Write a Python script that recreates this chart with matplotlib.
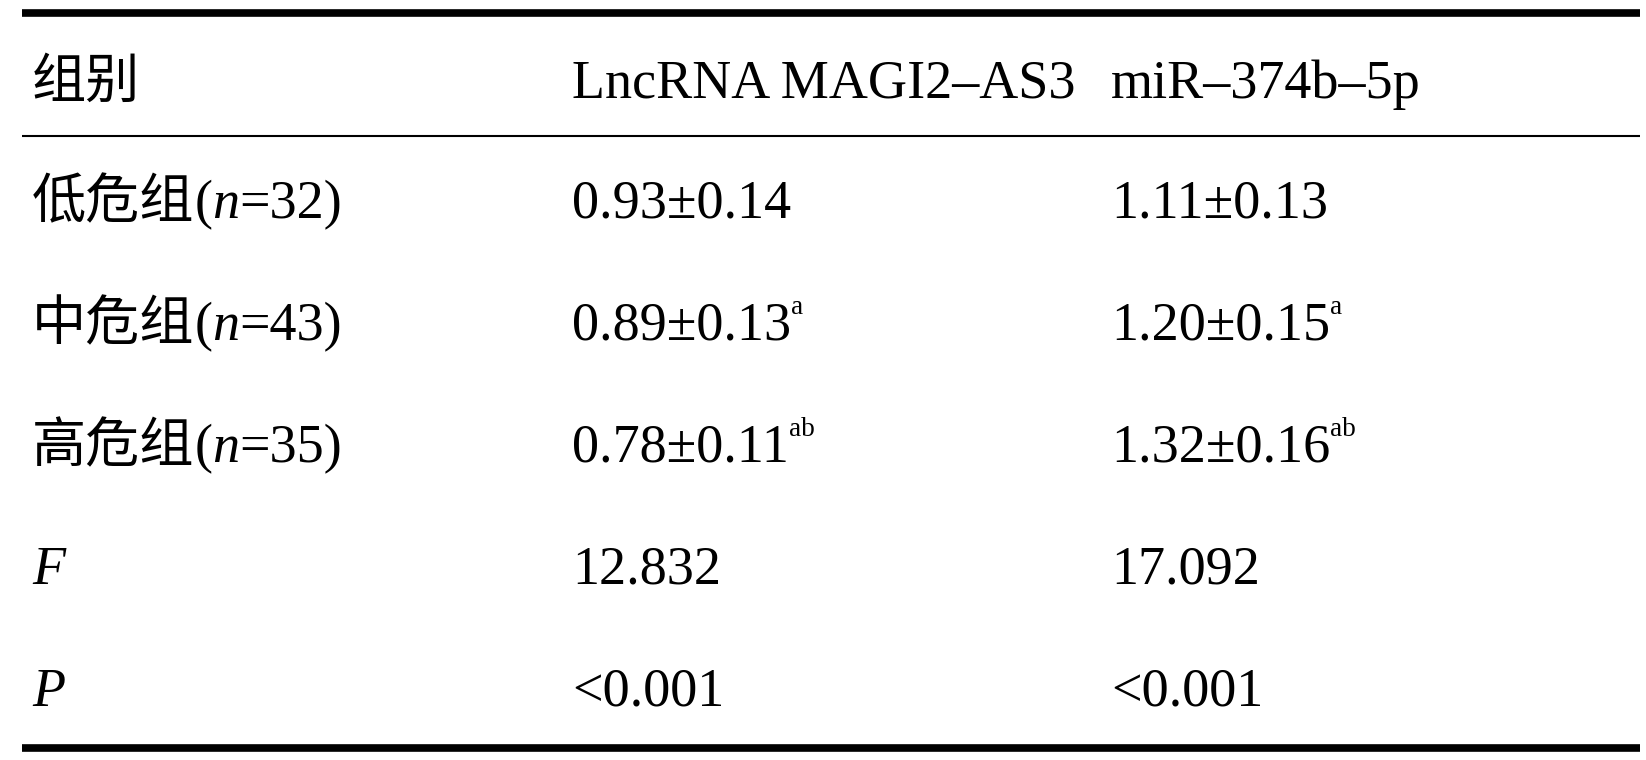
import matplotlib
matplotlib.use("Agg")
import matplotlib.pyplot as plt

# table content
header = ["组别", "LncRNA MAGI2–AS3", "miR–374b–5p"]
groups = ["低危组", "中危组", "高危组"]
group_n = [32, 43, 35]
lnc_mean = [0.93, 0.89, 0.78]
lnc_sd = [0.14, 0.13, 0.11]
mir_mean = [1.11, 1.20, 1.32]
mir_sd = [0.13, 0.15, 0.16]
marks = ["", "a", "ab"]
stat_names = ["F", "P"]
lnc_stats = ["12.832", "<0.001"]
mir_stats = ["17.092", "<0.001"]

W, H = 1646, 760
fig = plt.figure(figsize=(W / 100, H / 100), dpi=100)
ax = fig.add_axes([0, 0, 1, 1])
ax.set_xlim(0, W)
ax.set_ylim(H, 0)
ax.axis("off")
fig.canvas.draw()
renderer = fig.canvas.get_renderer()

FS = 39
serif = dict(family=["Liberation Serif", "DejaVu Serif"], size=FS)
ital = dict(family=["Liberation Serif", "DejaVu Serif"], size=FS, style="italic")
cjk = dict(family=["Noto Sans CJK SC", "DejaVu Sans"], size=FS)
sup = dict(family=["Liberation Serif", "DejaVu Serif"], size=FS * 0.5)


def draw_runs(x, y, runs):
    # put text pieces one after another on a common baseline
    for txt, kw, dy in runs:
        t = ax.text(x, y + dy, txt, va="baseline", ha="left", **kw)
        bb = t.get_window_extent(renderer)
        x += bb.width


col_x = [32, 572, 1111]
base_y = [98, 218, 340, 462, 584, 706]

# rules
ax.plot([22, 1640], [13, 13], color="black", lw=5.5, solid_capstyle="butt")
ax.plot([22, 1640], [136, 136], color="black", lw=1.5, solid_capstyle="butt")
ax.plot([22, 1640], [748, 748], color="black", lw=5.5, solid_capstyle="butt")

# header
draw_runs(col_x[0], base_y[0], [(header[0], cjk, 0)])
draw_runs(col_x[1], base_y[0], [(header[1], serif, 0)])
draw_runs(col_x[2], base_y[0], [(header[2], serif, 0)])

# group rows
for i, g in enumerate(groups):
    y = base_y[i + 1]
    draw_runs(col_x[0], y, [(g, cjk, 0), ("(", serif, 0), ("n", ital, 0),
                            ("=%d)" % group_n[i], serif, 0)])
    for cx, m, s in [(col_x[1], lnc_mean[i], lnc_sd[i]),
                     (col_x[2], mir_mean[i], mir_sd[i])]:
        runs = [("%.2f±%.2f" % (m, s), serif, 0)]
        if marks[i]:
            runs.append((marks[i], sup, -26))
        draw_runs(cx, y, runs)

# statistics rows
for j, name in enumerate(stat_names):
    y = base_y[4 + j]
    draw_runs(col_x[0], y, [(name, ital, 0)])
    draw_runs(col_x[1], y, [(lnc_stats[j], serif, 0)])
    draw_runs(col_x[2], y, [(mir_stats[j], serif, 0)])

fig.savefig("out.png", dpi=100, facecolor="white")
